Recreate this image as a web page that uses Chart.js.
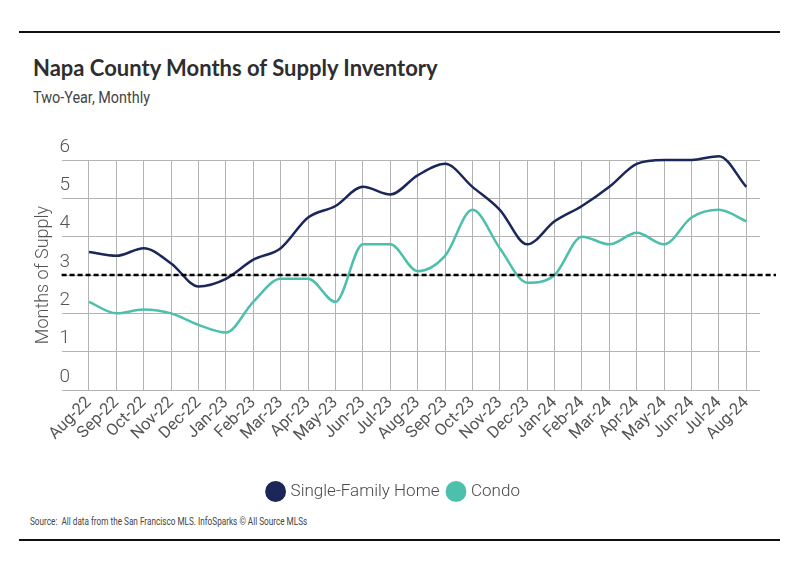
<!DOCTYPE html>
<html>
<head>
<meta charset="utf-8">
<script src="https://cdn.jsdelivr.net/npm/chart.js@4/dist/chart.umd.min.js"></script>
<style>
  body { margin: 0; background: #fff; font-family: 'Roboto', sans-serif; }
  #page { position: relative; width: 799px; height: 575px; overflow: hidden; }
  .rule { position: absolute; left: 19px; width: 761px; height: 2px; background: #111; }
  #title { position: absolute; left: 33px; top: 54px; font: bold 22px 'Lato', sans-serif; color: #2e2e2e; }
  #subtitle { position: absolute; left: 33px; top: 88px; font-size: 16px; color: #444;
    transform: scaleX(0.9); transform-origin: left; }
  #source { position: absolute; left: 30px; top: 515px; font-size: 10.5px; color: #444;
    transform: scaleX(0.78); transform-origin: left; white-space: nowrap; }
  #wrap { position: absolute; left: 0; top: 120px; width: 799px; height: 390px; }
</style>
</head>
<body>
<div id="page">
  <div class="rule" style="top:31px"></div>
  <div id="title">Napa County Months of Supply Inventory</div>
  <div id="subtitle">Two-Year, Monthly</div>
  <div id="wrap"><canvas id="chart"></canvas></div>
  <div id="source">Source:&nbsp; All data from the San Francisco MLS. InfoSparks © All Source MLSs</div>
  <div class="rule" style="top:539px"></div>
</div>
<script>
// months on the x axis
const months = ['Aug-22', 'Sep-22', 'Oct-22', 'Nov-22', 'Dec-22', 'Jan-23', 'Feb-23', 'Mar-23', 'Apr-23',
  'May-23', 'Jun-23', 'Jul-23', 'Aug-23', 'Sep-23', 'Oct-23', 'Nov-23', 'Dec-23', 'Jan-24', 'Feb-24',
  'Mar-24', 'Apr-24', 'May-24', 'Jun-24', 'Jul-24', 'Aug-24'];

// months of supply
const singleFamily = [3.6, 3.5, 3.7, 3.3, 2.7, 2.9, 3.4, 3.7, 4.5, 4.8, 5.3, 5.1, 5.6,
  5.9, 5.3, 4.7, 3.8, 4.4, 4.8, 5.3, 5.9, 6.0, 6.0, 6.1, 5.3];
const condo = [2.3, 2.0, 2.1, 2.0, 1.7, 1.5, 2.3, 2.9, 2.9, 2.3, 3.8, 3.8, 3.1,
  3.5, 4.7, 3.7, 2.8, 3.0, 4.0, 3.8, 4.1, 3.8, 4.5, 4.7, 4.4];

const yTicks = [0, 1, 2, 3, 4, 5, 6];
const balancedLevel = 3;

const gridColor = '#b3b3b3';
const textColor = '#555';
const font = "'Roboto', sans-serif";

// dashed "balanced market" line, a bit wider than the plot
const balancedLine = {
  id: 'balancedLine',
  afterDatasetsDraw(chart) {
    const { ctx, chartArea, scales } = chart;
    const y = scales.y.getPixelForValue(balancedLevel);
    ctx.save();
    ctx.strokeStyle = '#000';
    ctx.lineWidth = 2.5;
    ctx.setLineDash([5, 3]);
    ctx.beginPath();
    ctx.moveTo(chartArea.left, y);
    ctx.lineTo(chartArea.right + 16, y);
    ctx.stroke();
    ctx.restore();
  }
};

const toPoints = (vals) => vals.map((v, i) => ({ x: i, y: v }));

new Chart(document.getElementById('chart'), {
  type: 'line',
  data: {
    datasets: [
      {
        label: 'Single-Family Home',
        data: toPoints(singleFamily),
        borderColor: '#1b2659',
        backgroundColor: '#1b2659',
        borderWidth: 2.5,
        pointRadius: 0,
        cubicInterpolationMode: 'monotone',
        clip: false,
      },
      {
        label: 'Condo',
        data: toPoints(condo),
        borderColor: '#4dbfad',
        backgroundColor: '#4dbfad',
        borderWidth: 2.5,
        pointRadius: 0,
        cubicInterpolationMode: 'monotone',
        clip: false,
      },
    ],
  },
  options: {
    responsive: true,
    maintainAspectRatio: false,
    animation: false,
    layout: { padding: { left: 29, right: 39, top: 40, bottom: 0 } },
    plugins: {
      tooltip: { enabled: false },
      legend: {
        position: 'bottom',
        labels: {
          usePointStyle: true,
          pointStyle: 'circle',
          boxWidth: 13,
          boxHeight: 13,
          padding: 10,
          color: '#4a4a4a',
          font: { family: font, size: 17, weight: '300' },
        },
      },
    },
    scales: {
      x: {
        type: 'linear',
        min: -1,
        max: 24.5,
        afterBuildTicks: (s) => { s.ticks = months.map((m, i) => ({ value: i })); },
        afterFit: (s) => { s.height = 83; },
        grid: { drawTicks: false, color: gridColor },
        border: { display: false },
        ticks: {
          autoSkip: false,
          minRotation: 45,
          maxRotation: 45,
          padding: 3,
          color: textColor,
          font: { family: font, size: 16.5 },
          callback: (v) => months[v] || '',
        },
      },
      y: {
        min: 0,
        max: 6,
        afterBuildTicks: (s) => { s.ticks = yTicks.map((v) => ({ value: v })); },
        grid: { drawTicks: false, color: gridColor },
        border: { display: false },
        title: {
          display: true,
          text: 'Months of Supply',
          color: textColor,
          padding: { top: 4, bottom: 11 },
          font: { family: font, size: 18, weight: '300' },
        },
        ticks: {
          mirror: true,
          padding: -2,
          labelOffset: -13,
          color: textColor,
          font: { family: font, size: 19, weight: '300' },
        },
      },
    },
  },
  plugins: [balancedLine],
});
</script>
</body>
</html>
